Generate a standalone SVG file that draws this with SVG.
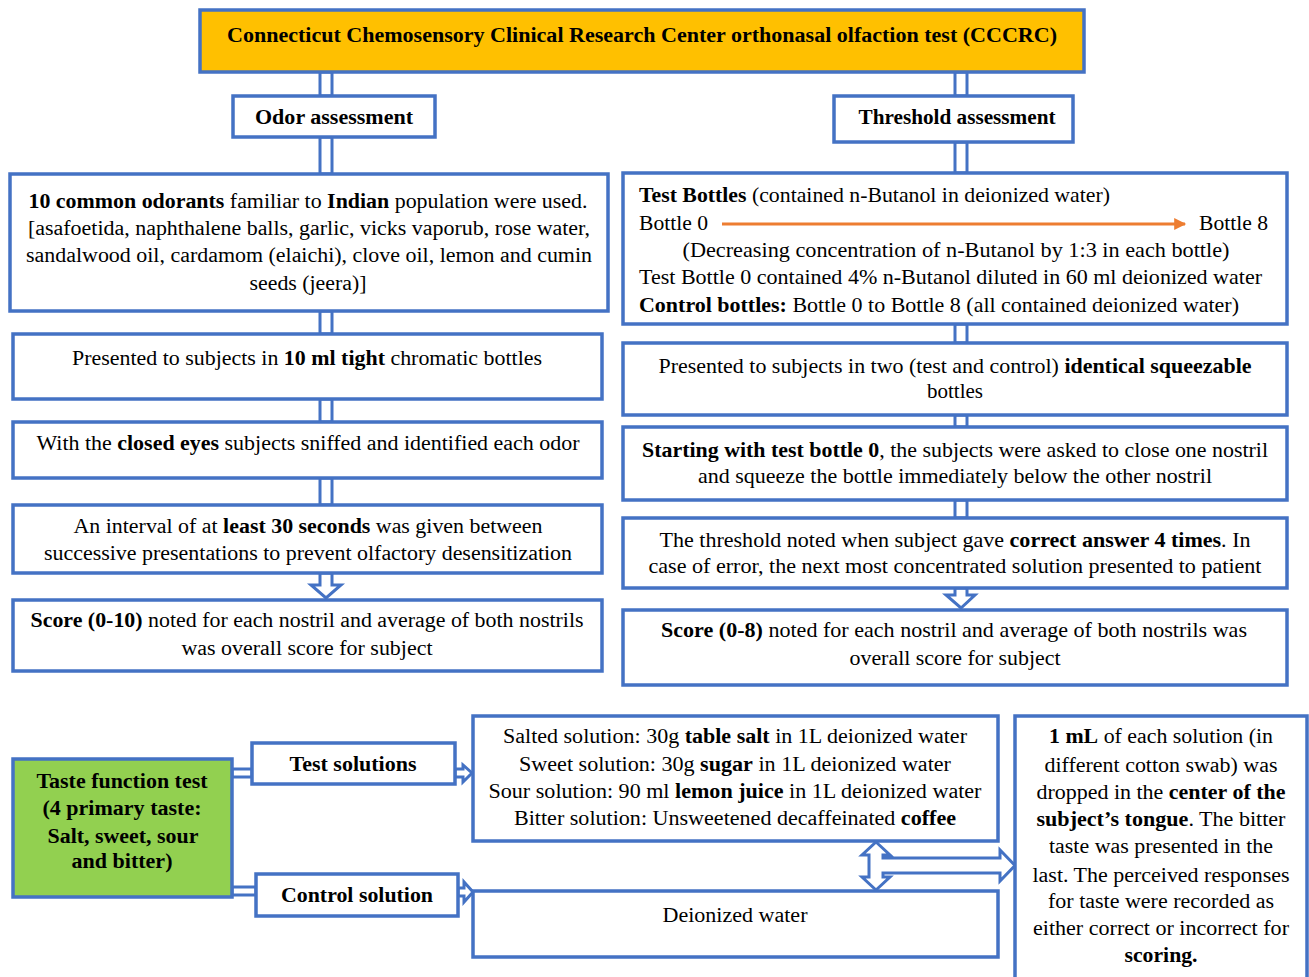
<svg xmlns="http://www.w3.org/2000/svg" width="1309" height="977" viewBox="0 0 1309 977">
<defs>
<style>
.box{fill:#fff;stroke:#4472C4;stroke-width:3.5}
.conn{fill:#fff;stroke:#4472C4;stroke-width:3}
.t{font-family:"Liberation Serif","Times New Roman",serif;font-size:20px;fill:#000;text-anchor:middle}
.s{text-anchor:start}
.r{font-size:21px}
.b{font-weight:bold}
</style>
<marker id="oh" viewBox="0 0 10 10" refX="9" refY="5" markerWidth="5" markerHeight="4" markerUnits="strokeWidth" orient="auto">
<path d="M0,0 L10,5 L0,10 Z" fill="#ED7D31"/>
</marker>
</defs>
<rect width="1309" height="977" fill="#fff"/>

<g id="connectors">
<!-- left column -->
<rect class="conn" x="320" y="72" width="12" height="24"/>
<rect class="conn" x="320" y="137" width="12" height="37"/>
<rect class="conn" x="320" y="311" width="12" height="23"/>
<rect class="conn" x="320" y="399" width="12" height="23"/>
<rect class="conn" x="320" y="478" width="12" height="27"/>
<path class="conn" d="M320,573 L332,573 L332,585 L341,585 L326,598 L311,585 L320,585 Z"/>
<!-- right column -->
<rect class="conn" x="955" y="72" width="12" height="24"/>
<rect class="conn" x="955" y="142" width="12" height="31"/>
<rect class="conn" x="955" y="324" width="12" height="19"/>
<rect class="conn" x="955" y="415" width="12" height="12"/>
<rect class="conn" x="955" y="500" width="12" height="18"/>
<path class="conn" d="M955,588 L967,588 L967,595 L975,595 L961,608 L946,595 L955,595 Z"/>
<!-- bottom -->
<rect class="conn" x="232" y="769" width="20" height="8"/>
<rect class="conn" x="232" y="887" width="24" height="8"/>
<path class="conn" d="M455,769 L463,769 L463,765 L472,773 L463,782 L463,777 L455,777 Z"/>
<path class="conn" d="M458,888 L464,888 L464,882 L473,892 L464,902 L464,896 L458,896 Z"/>
<path class="conn" d="M876,842 L890,855 L883,855 L883,858 L1000,858 L1000,850 L1015,865.5 L1000,881 L1000,873 L883,873 L883,877 L890,877 L876,890 L862,877 L869,877 L869,855 L862,855 Z"/>
</g>

<g id="title">
<rect x="200" y="10" width="884" height="62" fill="#FFC000" stroke="#4472C4" stroke-width="3.5"/>
<text class="t b" x="642" y="42" textLength="830" lengthAdjust="spacingAndGlyphs">Connecticut Chemosensory Clinical Research Center orthonasal olfaction test (CCCRC)</text>
</g>

<g id="odor-assessment">
<rect class="box" x="233" y="96" width="202" height="41"/>
<text class="t b" x="334" y="124" textLength="158" lengthAdjust="spacingAndGlyphs">Odor assessment</text>
</g>

<g id="threshold-assessment">
<rect class="box" x="834" y="96" width="239" height="46"/>
<text class="t b" x="957" y="124" textLength="197" lengthAdjust="spacingAndGlyphs">Threshold assessment</text>
</g>

<g id="odorants">
<rect class="box" x="10" y="174" width="598" height="137"/>
<text class="t" x="308" y="208" textLength="559" lengthAdjust="spacingAndGlyphs"><tspan class="b">10 common odorants</tspan> familiar to <tspan class="b">Indian</tspan> population were used.</text>
<text class="t" x="309" y="235" textLength="562" lengthAdjust="spacingAndGlyphs">[asafoetida, naphthalene balls, garlic, vicks vaporub, rose water,</text>
<text class="t" x="309" y="262" textLength="566" lengthAdjust="spacingAndGlyphs">sandalwood oil, cardamom (elaichi), clove oil, lemon and cumin</text>
<text class="t" x="308" y="290" textLength="117" lengthAdjust="spacingAndGlyphs">seeds (jeera)]</text>
</g>

<g id="presented-left">
<rect class="box" x="13" y="334" width="589" height="65"/>
<text class="t" x="307" y="365" textLength="470" lengthAdjust="spacingAndGlyphs">Presented to subjects in <tspan class="b">10 ml tight</tspan> chromatic bottles</text>
</g>

<g id="closed-eyes">
<rect class="box" x="13" y="422" width="589" height="56"/>
<text class="t" x="308" y="450" textLength="543" lengthAdjust="spacingAndGlyphs">With the <tspan class="b">closed eyes</tspan> subjects sniffed and identified each odor</text>
</g>

<g id="interval">
<rect class="box" x="13" y="505" width="589" height="68"/>
<text class="t" x="308" y="533" textLength="469" lengthAdjust="spacingAndGlyphs">An interval of at <tspan class="b">least 30 seconds</tspan> was given between</text>
<text class="t" x="308" y="560" textLength="528" lengthAdjust="spacingAndGlyphs">successive presentations to prevent olfactory desensitization</text>
</g>

<g id="score-left">
<rect class="box" x="13" y="600" width="589" height="71"/>
<text class="t" x="307" y="627" textLength="553" lengthAdjust="spacingAndGlyphs"><tspan class="b">Score (0-10)</tspan> noted for each nostril and average of both nostrils</text>
<text class="t" x="307" y="655" textLength="251" lengthAdjust="spacingAndGlyphs">was overall score for subject</text>
</g>

<g id="test-bottles">
<rect class="box" x="623" y="173" width="664" height="151"/>
<text class="t r s" x="639" y="202" textLength="471" lengthAdjust="spacingAndGlyphs"><tspan class="b">Test Bottles</tspan> (contained n-Butanol in deionized water)</text>
<text class="t r s" x="639" y="230" textLength="69" lengthAdjust="spacingAndGlyphs">Bottle 0</text>
<line x1="722" y1="224" x2="1185" y2="224" stroke="#ED7D31" stroke-width="3" marker-end="url(#oh)"/>
<text class="t r s" x="1199" y="230" textLength="69" lengthAdjust="spacingAndGlyphs">Bottle 8</text>
<text class="t r" x="956" y="257" textLength="547" lengthAdjust="spacingAndGlyphs">(Decreasing concentration of n-Butanol by 1:3 in each bottle)</text>
<text class="t r s" x="639" y="284" textLength="623" lengthAdjust="spacingAndGlyphs">Test Bottle 0 contained 4% n-Butanol diluted in 60 ml deionized water</text>
<text class="t r s" x="639" y="312" textLength="600" lengthAdjust="spacingAndGlyphs"><tspan class="b">Control bottles:</tspan> Bottle 0 to Bottle 8 (all contained deionized water)</text>
</g>

<g id="presented-right">
<rect class="box" x="623" y="343" width="664" height="72"/>
<text class="t r" x="955" y="373" textLength="593" lengthAdjust="spacingAndGlyphs">Presented to subjects in two (test and control) <tspan class="b">identical squeezable</tspan></text>
<text class="t r" x="955" y="398">bottles</text>
</g>

<g id="starting">
<rect class="box" x="623" y="427" width="664" height="73"/>
<text class="t r" x="955" y="457" textLength="626" lengthAdjust="spacingAndGlyphs"><tspan class="b">Starting with test bottle 0</tspan>, the subjects were asked to close one nostril</text>
<text class="t r" x="955" y="483" textLength="514" lengthAdjust="spacingAndGlyphs">and squeeze the bottle immediately below the other nostril</text>
</g>

<g id="threshold-noted">
<rect class="box" x="623" y="518" width="664" height="70"/>
<text class="t r" x="955" y="547" textLength="591" lengthAdjust="spacingAndGlyphs">The threshold noted when subject gave <tspan class="b">correct answer 4 times</tspan>. In</text>
<text class="t r" x="955" y="573" textLength="613" lengthAdjust="spacingAndGlyphs">case of error, the next most concentrated solution presented to patient</text>
</g>

<g id="score-right">
<rect class="box" x="623" y="610" width="664" height="75"/>
<text class="t r" x="954" y="637" textLength="586" lengthAdjust="spacingAndGlyphs"><tspan class="b">Score (0-8)</tspan> noted for each nostril and average of both nostrils was</text>
<text class="t r" x="955" y="665" textLength="211" lengthAdjust="spacingAndGlyphs">overall score for subject</text>
</g>

<g id="taste-function-test">
<rect x="13" y="759" width="219" height="138" fill="#92D050" stroke="#4472C4" stroke-width="3.5"/>
<text class="t b" x="122" y="788" textLength="171" lengthAdjust="spacingAndGlyphs">Taste function test</text>
<text class="t b" x="122" y="815" textLength="159" lengthAdjust="spacingAndGlyphs">(4 primary taste:</text>
<text class="t b" x="123" y="843" textLength="151" lengthAdjust="spacingAndGlyphs">Salt, sweet, sour</text>
<text class="t b" x="122" y="868" textLength="101" lengthAdjust="spacingAndGlyphs">and bitter)</text>
</g>

<g id="test-solutions">
<rect class="box" x="252" y="743" width="203" height="41"/>
<text class="t b" x="353" y="771" textLength="127" lengthAdjust="spacingAndGlyphs">Test solutions</text>
</g>

<g id="control-solution">
<rect class="box" x="256" y="874" width="202" height="42"/>
<text class="t b" x="357" y="902" textLength="152" lengthAdjust="spacingAndGlyphs">Control solution</text>
</g>

<g id="solutions">
<rect class="box" x="473" y="716" width="525" height="125"/>
<text class="t" x="735" y="743" textLength="464" lengthAdjust="spacingAndGlyphs">Salted solution: 30g <tspan class="b">table salt</tspan> in 1L deionized water</text>
<text class="t" x="735" y="771" textLength="432" lengthAdjust="spacingAndGlyphs">Sweet solution: 30g <tspan class="b">sugar</tspan> in 1L deionized water</text>
<text class="t" x="735" y="798" textLength="493" lengthAdjust="spacingAndGlyphs">Sour solution: 90 ml <tspan class="b">lemon juice</tspan> in 1L deionized water</text>
<text class="t" x="735" y="825" textLength="442" lengthAdjust="spacingAndGlyphs">Bitter solution: Unsweetened decaffeinated <tspan class="b">coffee</tspan></text>
</g>

<g id="deionized-water">
<rect class="box" x="473" y="891" width="525" height="66"/>
<text class="t" x="735" y="922" textLength="145" lengthAdjust="spacingAndGlyphs">Deionized water</text>
</g>

<g id="procedure">
<rect class="box" x="1015" y="716" width="292" height="280"/>
<text class="t" x="1161" y="743" textLength="224" lengthAdjust="spacingAndGlyphs"><tspan class="b">1 mL</tspan> of each solution (in</text>
<text class="t" x="1161" y="772" textLength="233" lengthAdjust="spacingAndGlyphs">different cotton swab) was</text>
<text class="t" x="1161" y="799" textLength="249" lengthAdjust="spacingAndGlyphs">dropped in the <tspan class="b">center of the</tspan></text>
<text class="t" x="1161" y="826" textLength="249" lengthAdjust="spacingAndGlyphs"><tspan class="b">subject’s tongue</tspan>. The bitter</text>
<text class="t" x="1161" y="853" textLength="224" lengthAdjust="spacingAndGlyphs">taste was presented in the</text>
<text class="t" x="1161" y="882" textLength="257" lengthAdjust="spacingAndGlyphs">last. The perceived responses</text>
<text class="t" x="1161" y="908" textLength="226" lengthAdjust="spacingAndGlyphs">for taste were recorded as</text>
<text class="t" x="1161" y="935" textLength="256" lengthAdjust="spacingAndGlyphs">either correct or incorrect for</text>
<text class="t b" x="1161" y="962" textLength="73" lengthAdjust="spacingAndGlyphs">scoring.</text>
</g>
</svg>
